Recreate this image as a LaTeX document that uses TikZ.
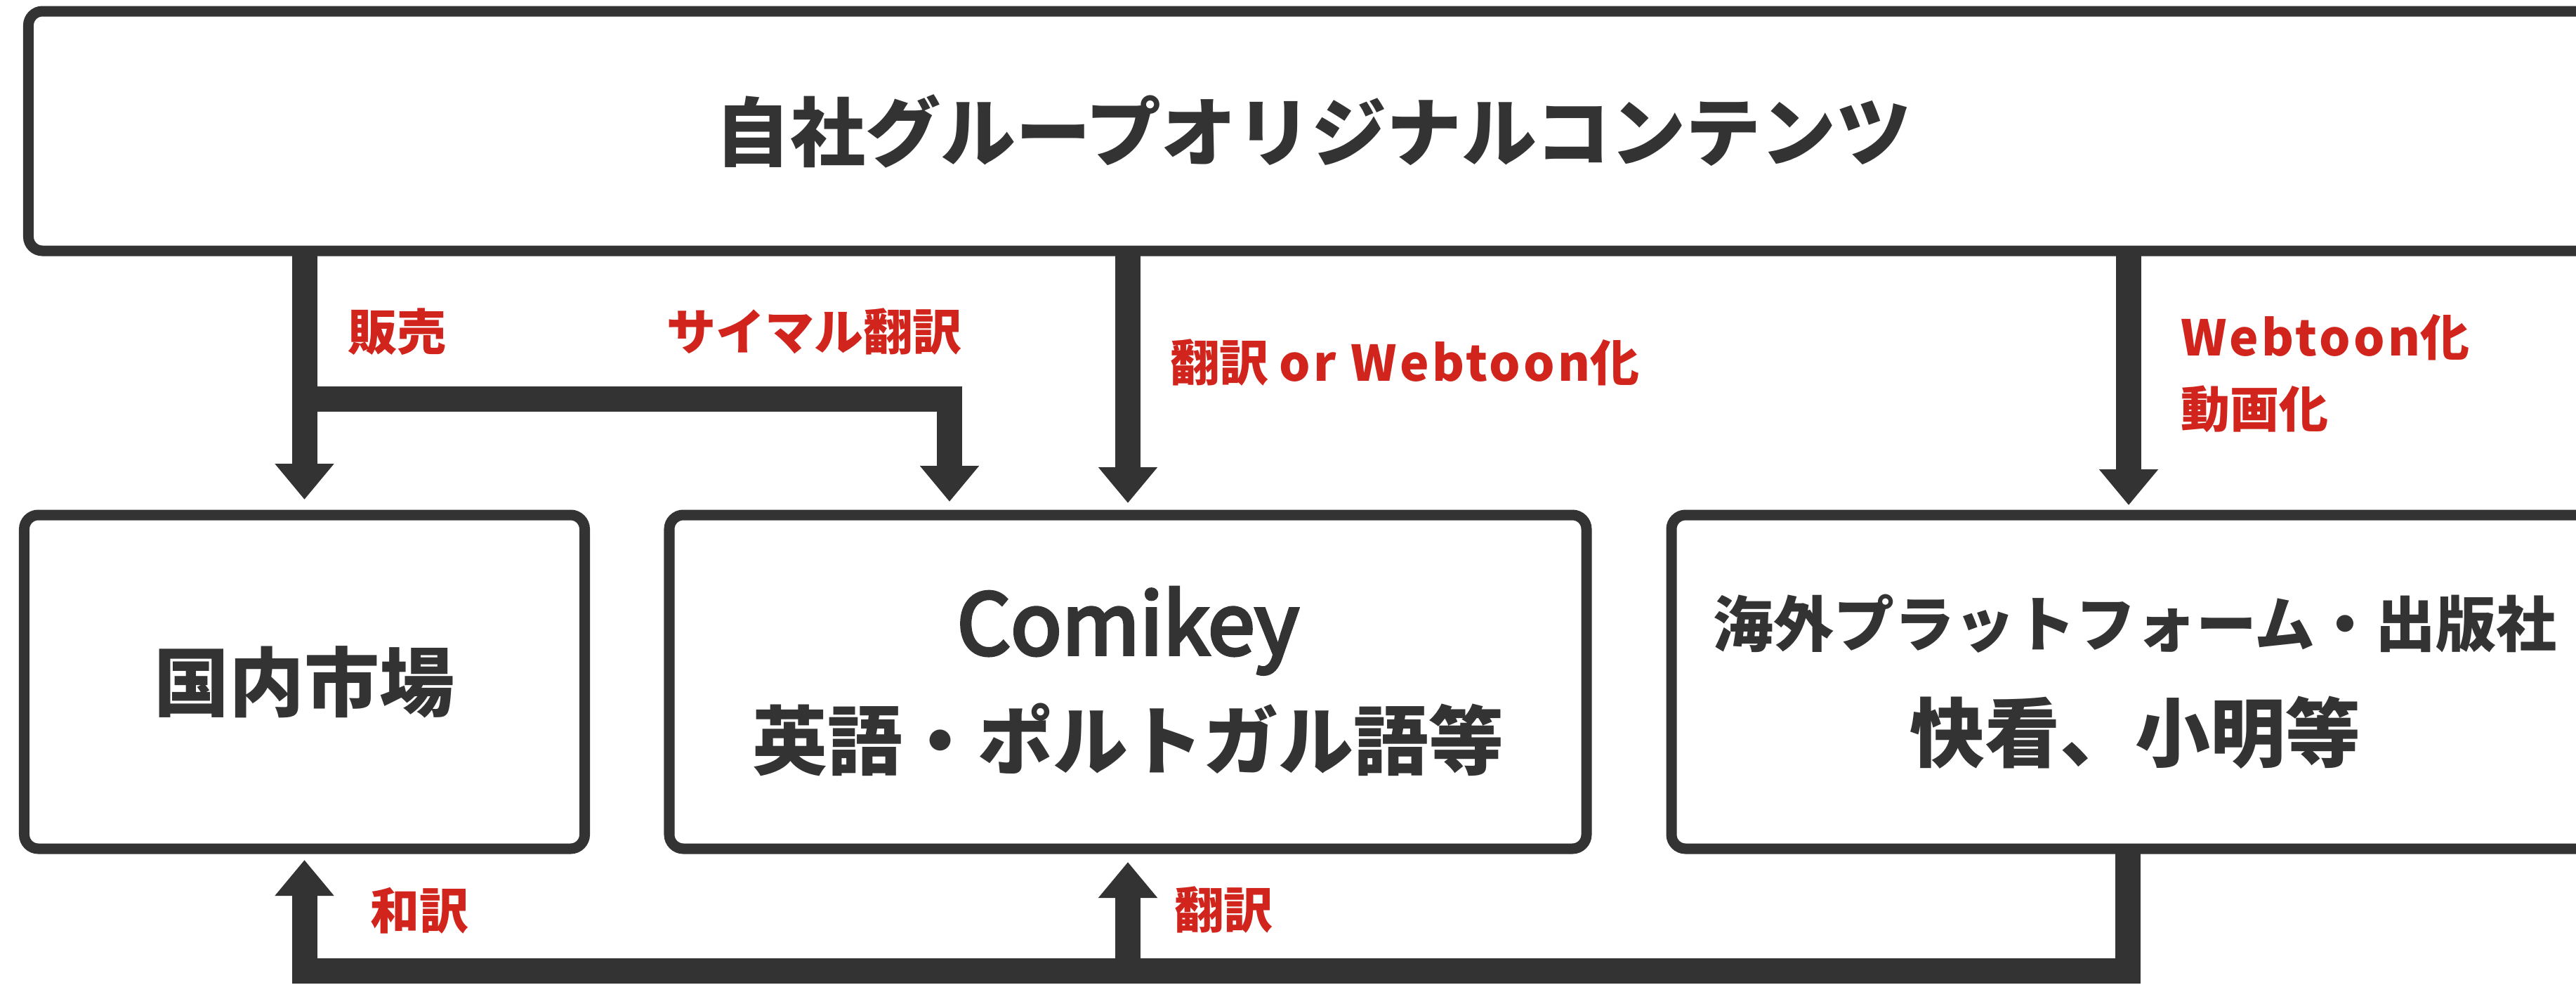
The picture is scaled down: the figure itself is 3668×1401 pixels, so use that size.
\documentclass[tikz,border=0pt]{standalone}
\usepackage{fontspec}
\setmainfont{Noto Sans CJK JP}
\newfontfamily\cmkfont{Noto Sans CJK JP}[FakeBold=4]
\usetikzlibrary{arrows.meta,calc}
\definecolor{dark}{HTML}{333333}
\definecolor{lab}{HTML}{D0241C}
\newcommand{\lat}[1]{{\addfontfeature{LetterSpace=6}#1}}
\begin{document}
\begin{tikzpicture}[x=0.2pt,y=-0.2pt,
  box/.style={draw=dark,line width=3pt,rounded corners=4pt,fill=white,inner sep=0pt,outer sep=0pt,text=dark,align=center,font=\bfseries\fontsize{21.4}{32.6}\selectfont},
  conn/.style={draw=dark,line width=7.2pt,line join=miter},
  tipend/.style={-{Triangle[width=16.2pt,length=10.2pt]}},
  tipstart/.style={{Triangle[width=16.2pt,length=10.2pt]}-},
  lbl/.style={text=lab,font=\bfseries\fontsize{14}{20.4}\selectfont,anchor=west,inner sep=0pt,align=left}]
\useasboundingbox[fill=white] (0,0) rectangle (3668,1401);
\node[box, minimum width=731.8pt, minimum height=68.2pt] (top) at (1870,186.5) {自社グループオリジナルコンテンツ};
\node[box, minimum width=159.6pt, minimum height=95pt] (dom) at (433.5,970.5) {国内市場};
\node[box, minimum width=261.2pt, minimum height=95pt] (comi) at (1606,970.5) {{\cmkfont\mdseries\fontsize{24}{32.6}\selectfont Comikey}\\英語・ポルトガル語等};
\node[box, minimum width=264pt, minimum height=95pt] (ovs) at (3040,970.5) {{\fontsize{17.2}{34.2}\selectfont 海外プラットフォーム・出版社}\\快看、小明等};
% connectors from top
\draw[conn,tipend] (top.south -| dom.north) -- ($(dom.north)+(0,-22)$);
\coordinate (j1) at ($(top.south -| dom.north)+(0,211)$);
\draw[conn,tipend] (j1) -| ($(comi.north west)+(399,-19)$);
\draw[conn,tipend] (top.south -| comi.north) -- ($(comi.north)+(0,-17)$);
\draw[conn,tipend] ($(top.south -| ovs.north)+(-9,0)$) -- ($(ovs.north)+(-9,-14)$);
% bottom return
\coordinate (bl) at (433.5,1382);
\draw[conn,tipstart] ($(dom.south)+(0,16)$) -- (dom.south |- bl) -| ($(ovs.south)+(-10,0)$);
\draw[conn,tipstart] ($(comi.south)+(0,19)$) -- (comi.south |- bl);
% labels
\node[lbl] (l1) at (494,472) {販売};
\node[lbl] (l2) at (948,472) {サイマル翻訳};
\node[lbl] (l3) at (1665,516) {翻訳 \lat{or Webtoon}化};
\node[lbl] (l4) at (3104,532) {\lat{Webtoon}化\\動画化};
\node[lbl] (l5) at (526,1296) {和訳};
\node[lbl] (l6) at (1671,1295) {翻訳};
\end{tikzpicture}
\end{document}
